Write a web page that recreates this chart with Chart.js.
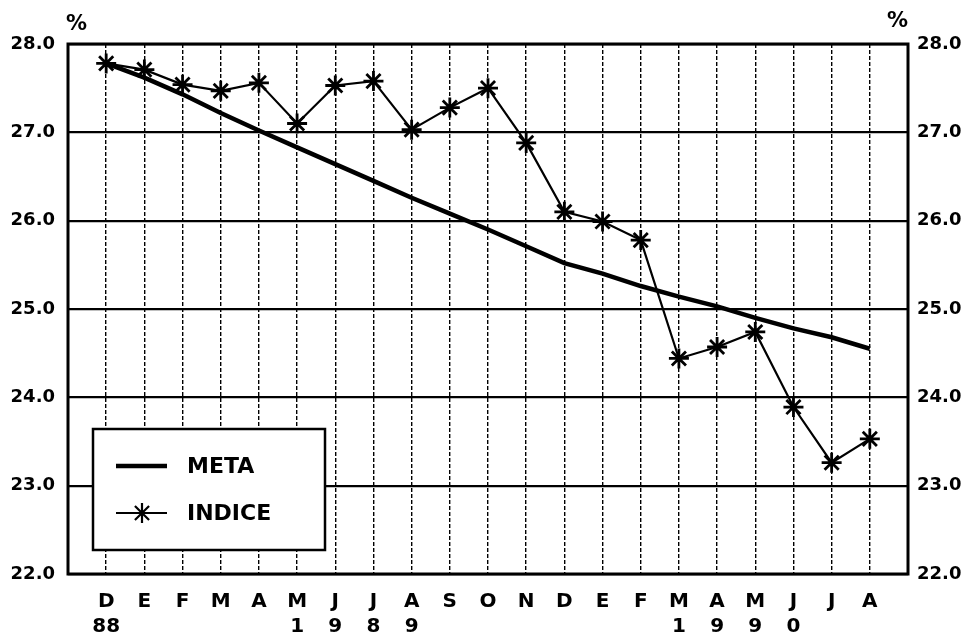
<!DOCTYPE html>
<html>
<head>
<meta charset="utf-8">
<script src="https://cdn.jsdelivr.net/npm/chart.js@4.4.1/dist/chart.umd.min.js"></script>
<style>
  html, body { margin: 0; padding: 0; background: #fff; }
  #wrap { width: 971px; height: 641px; }
</style>
</head>
<body>
<div id="wrap"><canvas id="c" width="971" height="641"></canvas></div>
<script>
// Month initials, Dec 1988 to Aug 1990
const months = ['D','E','F','M','A','M','J','J','A','S','O','N','D','E','F','M','A','M','J','J','A'];
// Second row under the months: the year, spelled one digit per column
const yearMarks = ['88','','','','','1','9','8','9','','','','','','','1','9','9','0','',''];
// Target path (%)
const meta = [27.78, 27.62, 27.43, 27.22, 27.02, 26.83, 26.64, 26.45, 26.26, 26.08, 25.90, 25.71,
              25.52, 25.40, 25.26, 25.14, 25.03, 24.90, 24.78, 24.68, 24.55];
// Observed index (%)
const indice = [27.78, 27.71, 27.54, 27.47, 27.56, 27.10, 27.53, 27.58, 27.03, 27.28, 27.50, 26.88,
                26.10, 25.99, 25.78, 24.44, 24.57, 24.74, 23.89, 23.26, 23.53];
const yTicks = [22, 23, 24, 25, 26, 27, 28];

const FONT = "'DejaVu Sans', 'Liberation Sans', Arial, sans-serif";
const toPoints = arr => arr.map((v, i) => ({ x: i, y: v }));

// Frame, percent signs and the boxed key
const decor = {
  id: 'decor',
  afterDatasetsDraw(chart) {
    const { ctx, chartArea: a } = chart;
    ctx.save();
    // outer frame
    ctx.strokeStyle = '#000';
    ctx.lineWidth = 3;
    ctx.strokeRect(a.left, a.top, a.right - a.left, a.bottom - a.top);

    // percent signs above both value axes
    ctx.fillStyle = '#000';
    ctx.font = 'bold 21px ' + FONT;
    ctx.textBaseline = 'alphabetic';
    ctx.textAlign = 'left';
    ctx.fillText('%', a.left - 2, 30);
    ctx.fillText('%', a.right - 21, 27);

    // key box
    const bx = a.left + 25, by = a.top + 385, bw = 232, bh = 121;
    ctx.fillStyle = '#fff';
    ctx.fillRect(bx, by, bw, bh);
    ctx.lineWidth = 2.5;
    ctx.strokeStyle = '#000';
    ctx.strokeRect(bx, by, bw, bh);

    const ds = chart.data.datasets;
    const rows = [by + 37, by + 84];
    ds.forEach((d, k) => {
      const y = rows[k];
      ctx.beginPath();
      ctx.lineWidth = d.borderWidth;
      ctx.strokeStyle = '#000';
      ctx.moveTo(bx + 23, y);
      ctx.lineTo(bx + 74, y);
      ctx.stroke();
      if (d.pointRadius > 0) {
        Chart.helpers.drawPoint(ctx, {
          pointStyle: d.pointStyle, radius: d.pointRadius, borderWidth: d.pointBorderWidth, rotation: 0
        }, bx + 49, y);
      }
      ctx.fillStyle = '#000';
      ctx.font = 'bold 22px ' + FONT;
      ctx.textAlign = 'left';
      ctx.textBaseline = 'middle';
      ctx.fillText(d.label, bx + 94, y + 1);
    });
    ctx.restore();
  }
};

new Chart(document.getElementById('c'), {
  type: 'line',
  data: {
    datasets: [
      {
        label: 'META',
        data: toPoints(meta),
        borderColor: '#000',
        borderWidth: 4.5,
        pointRadius: 0,
        tension: 0,
        yAxisID: 'y'
      },
      {
        label: 'INDICE',
        data: toPoints(indice),
        borderColor: '#000',
        backgroundColor: '#000',
        borderWidth: 2.2,
        pointStyle: 'star',
        pointRadius: 10,
        pointBorderWidth: 2.8,
        pointBorderColor: '#000',
        tension: 0,
        yAxisID: 'y'
      }
    ]
  },
  options: {
    responsive: false,
    animation: false,
    events: [],
    layout: { padding: { top: 44, left: 0, right: 0, bottom: 0 } },
    plugins: { legend: { display: false }, tooltip: { enabled: false } },
    scales: {
      x: {
        type: 'linear',
        min: -1,
        max: 21,
        afterFit(s) { s.height = 67; },
        afterBuildTicks(s) {
          s.ticks = [];
          for (let i = -1; i <= 21; i++) s.ticks.push({ value: i });
        },
        border: { display: false, dash: [4, 2] },
        grid: {
          drawTicks: false,
          lineWidth: 1.4,
          color: c => (c.tick && c.tick.value >= 0 && c.tick.value <= 20) ? '#000' : 'rgba(0,0,0,0)'
        },
        ticks: {
          autoSkip: false,
          maxRotation: 0,
          minRotation: 0,
          padding: 15,
          color: '#000',
          font: { family: FONT, size: 20, weight: 'bold', lineHeight: 1.25 },
          callback: v => (v >= 0 && v <= 20) ? [months[v], yearMarks[v]] : ''
        }
      },
      y: {
        position: 'left',
        min: 22,
        max: 28,
        afterFit(s) { s.width = 68; },
        afterBuildTicks(s) { s.ticks = yTicks.map(v => ({ value: v })); },
        border: { display: false },
        grid: { drawTicks: false, color: '#000', lineWidth: 2.2 },
        ticks: {
          padding: 13,
          color: '#000',
          font: { family: FONT, size: 18, weight: 'bold' },
          callback: v => v.toFixed(1)
        }
      },
      y2: {
        position: 'right',
        display: true,
        min: 22,
        max: 28,
        afterFit(s) { s.width = 63; },
        afterBuildTicks(s) { s.ticks = yTicks.map(v => ({ value: v })); },
        border: { display: false },
        grid: { display: false, drawTicks: false },
        ticks: {
          padding: 9,
          color: '#000',
          font: { family: FONT, size: 18, weight: 'bold' },
          callback: v => v.toFixed(1)
        }
      }
    }
  },
  plugins: [decor]
});
</script>
</body>
</html>
